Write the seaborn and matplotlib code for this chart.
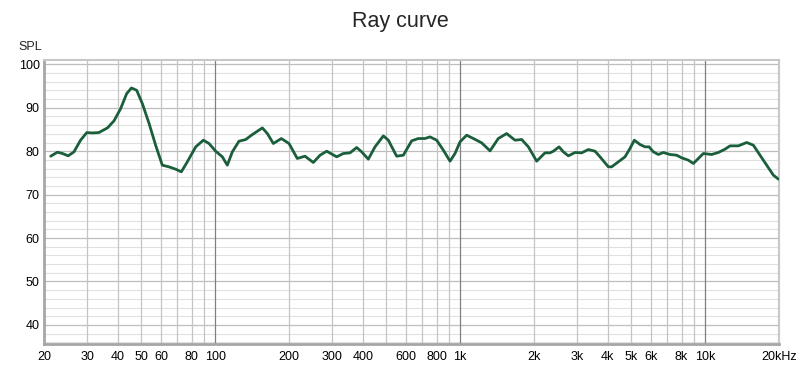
import matplotlib
matplotlib.use("Agg")
import matplotlib.pyplot as plt
import seaborn as sns
import pandas as pd
import numpy as np
from matplotlib.ticker import FixedLocator, NullFormatter

# Data
freq_hz = [21.3, 22.7, 23.8, 25.1, 26.5, 28.2, 29.9, 31.5, 33.5, 36.3, 38.6, 41.1,
           43.5, 45.5, 47.8, 50.4, 53.7, 57.1, 60.8, 64.7, 68.9, 72.7, 76.9, 83.2,
           89.4, 94.3, 100.4, 106.9, 112.0, 117.4, 125.0, 133.1, 141.7, 155.7,
           163.2, 172.6, 186.1, 200, 216.2,
           232.4, 251.4, 267.8, 285.1, 313.0, 333.3, 354.9, 377.8, 395.9, 421.5,
           448.8, 485.4, 508.8, 550.1, 585.7, 633.4, 674.4, 718, 752.6, 801.4,
           853.1, 908.3, 952, 997.8, 1062, 1131, 1223, 1323, 1430, 1547, 1673,
           1781, 1897, 2051,
           2218, 2325, 2399, 2531, 2635, 2762, 2942, 3130, 3334, 3549, 3720, 4023,
           4150, 4419, 4705, 4930, 5135, 5416, 5676, 5896, 6141, 6435, 6744, 7180,
           7644, 8014, 8531, 8941, 9373, 9823, 10622, 11310, 12042, 12620, 13648,
           14761, 15717, 16730, 17813, 18966, 19884]
spl_db = [78.85, 79.77, 79.47, 78.93, 79.84, 82.53, 84.29, 84.2, 84.29, 85.36, 86.97,
          89.8, 93.26, 94.56, 94.02, 90.96, 86.37, 81.38, 76.78, 76.4, 75.86, 75.25,
          77.55, 80.99, 82.53, 81.77, 80.0, 78.7, 76.78, 79.84, 82.3, 82.68, 83.83,
          85.36, 84.06, 81.77, 82.91, 81.77, 78.32,
          78.85, 77.4, 79.08, 80.0, 78.7, 79.47, 79.62, 80.85, 79.85, 78.16,
          81.0, 83.53, 82.53, 78.85, 79.08, 82.38, 82.92, 82.92, 83.3, 82.53,
          80.23, 77.7, 79.47, 82.15, 83.68, 82.92, 81.92, 80.08, 82.92, 84.06, 82.53,
          82.69, 81.0, 77.7,
          79.62, 79.62, 80.0, 81.0, 79.85, 78.93, 79.7, 79.62, 80.39, 80.0, 78.7, 76.4,
          76.4, 77.55, 78.7, 80.62, 82.53, 81.54, 81.0, 81.0, 79.85, 79.24, 79.7, 79.24,
          79.08, 78.47, 77.93, 77.17, 78.32, 79.47, 79.24, 79.7, 80.46, 81.23, 81.23,
          82.0, 81.38, 79.08, 76.78, 74.49, 73.57]

x_tick_values = [20, 30, 40, 50, 60, 80, 100, 200, 300, 400, 600, 800, 1000,
                 2000, 3000, 4000, 5000, 6000, 8000, 10000, 20000]
x_tick_labels = ["20", "30", "40", "50", "60", "80", "100", "200", "300", "400",
                 "600", "800", "1k", "2k", "3k", "4k", "5k", "6k", "8k", "10k", "20kHz"]
y_tick_values = [40, 50, 60, 70, 80, 90, 100]

df = pd.DataFrame({"freq": freq_hz, "spl": spl_db})

sns.set_style("white")
plt.rcParams["font.family"] = ["Liberation Sans", "DejaVu Sans"]

fig = plt.figure(figsize=(8.0, 3.69), dpi=100)
ax = fig.add_axes([44 / 800, 1 - 344 / 369, (779 - 44) / 800, (344 - 60) / 369])

sns.lineplot(data=df, x="freq", y="spl", ax=ax, color="#1b5e3b", linewidth=2.0,
             solid_joinstyle="round", solid_capstyle="round", zorder=5)

ax.set_xscale("log")
ax.set_xlim(20, 20000)
ax.set_ylim(35.6, 101)

# Grid lines
minor_x = [m * 10 ** d for d in range(1, 5) for m in range(2, 10) if 20 < m * 10 ** d < 20000]
decades = [100, 1000, 10000]
for v in np.arange(36, 101, 2):
    if v % 10 != 0:
        ax.axhline(v, color="#e0e0e0", linewidth=0.8, zorder=0.1)
for v in y_tick_values:
    ax.axhline(v, color="#bdbdbd", linewidth=0.9, zorder=0.2)
for v in minor_x:
    if v not in decades:
        ax.axvline(v, color="#c4c4c4", linewidth=0.9, zorder=0.3)
for v in decades:
    ax.axvline(v, color="#808080", linewidth=0.9, zorder=0.4)

ax.xaxis.set_major_locator(FixedLocator(x_tick_values))
ax.set_xticklabels(x_tick_labels)
ax.xaxis.set_minor_formatter(NullFormatter())
ax.set_yticks(y_tick_values)
ax.tick_params(axis="both", which="both", length=0, labelsize=9, colors="#000000")
ax.tick_params(axis="x", pad=5)
ax.tick_params(axis="y", pad=3)

ax.set_xlabel("")
ax.set_ylabel("")

for side in ["top", "right"]:
    ax.spines[side].set_color("#c8c8c8")
    ax.spines[side].set_linewidth(1.5)
for side in ["left", "bottom"]:
    ax.spines[side].set_color("#a6a6a6")
    ax.spines[side].set_linewidth(2.0)

fig.text(30 / 800, 1 - 47 / 369, "SPL", ha="center", va="center", fontsize=9)
fig.text(400 / 800, 1 - 22 / 369, "Ray curve", ha="center", va="center", fontsize=15.5)

fig.savefig("out.png", dpi=100)
